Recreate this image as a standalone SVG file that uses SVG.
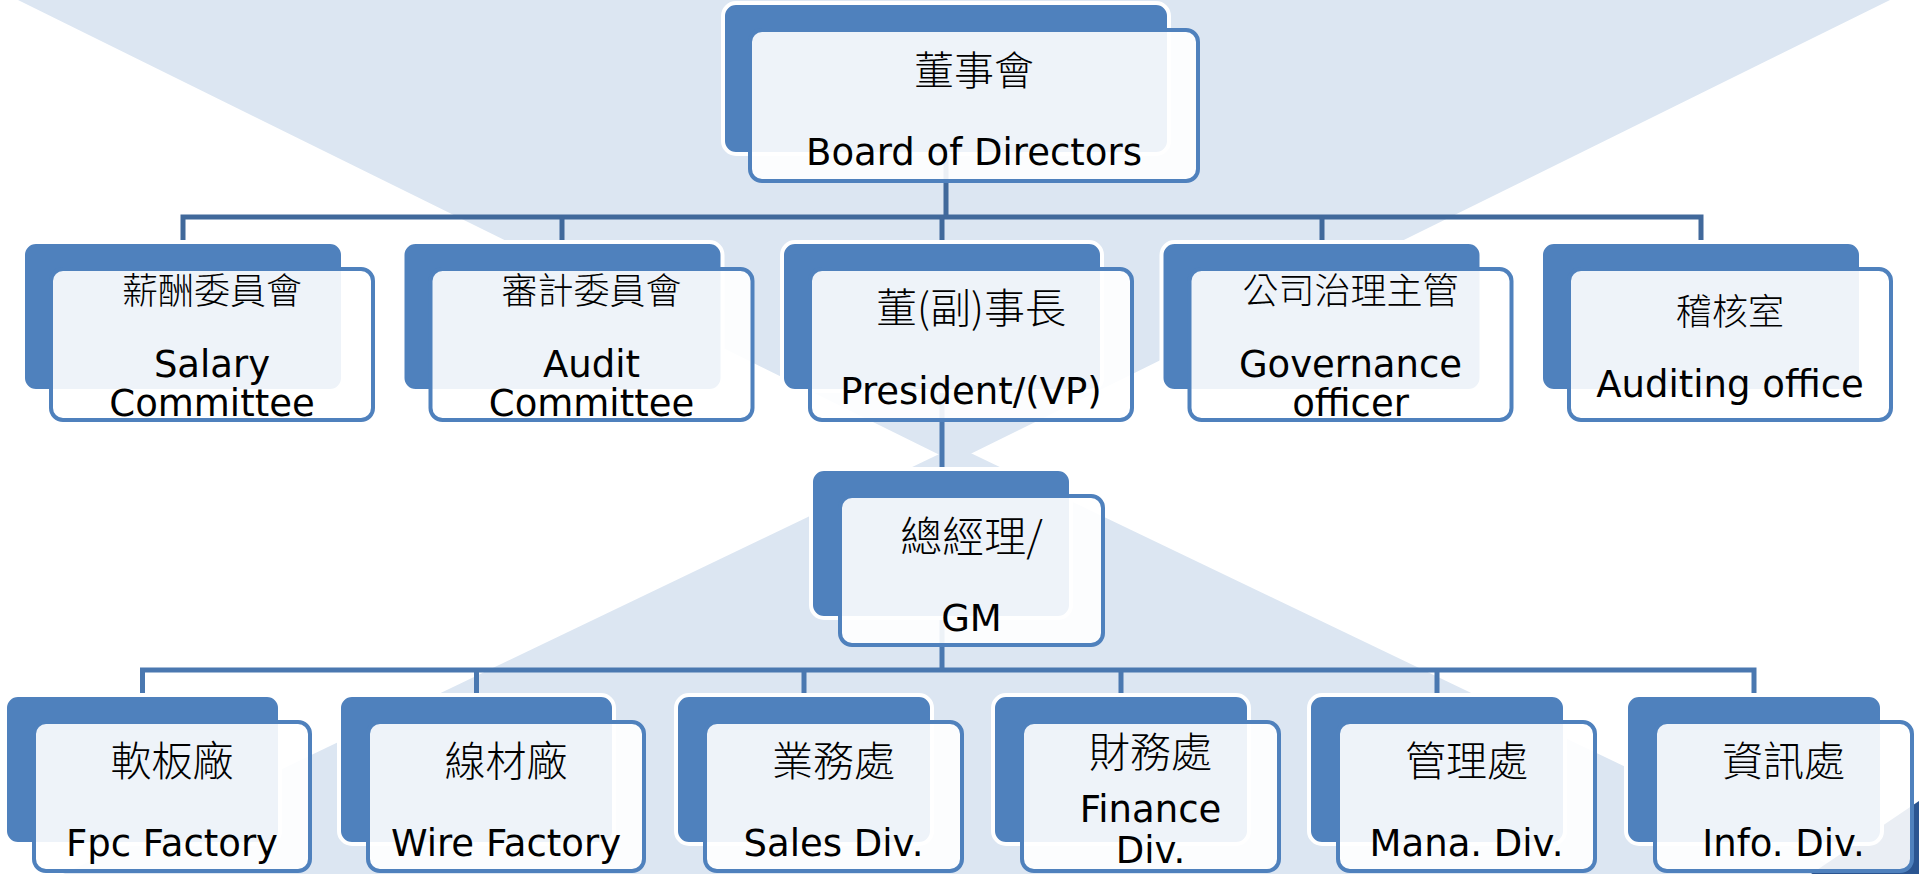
<svg xmlns="http://www.w3.org/2000/svg" width="1919" height="874" viewBox="0 0 1919 874">
<style>
.bg{fill:#dce6f2}
.back{fill:#4f81bd;stroke:#ffffff;stroke-width:4}
.front{fill:#ffffff;fill-opacity:0.9;stroke:#4f81bd;stroke-width:4}
.cjk{font-family:'Noto Sans CJK TC','Noto Sans CJK SC',sans-serif;font-weight:300;fill:#000000;text-anchor:middle}
.en{font-family:'DejaVu Sans','Liberation Sans',sans-serif;font-size:37px;fill:#000000;text-anchor:middle}
.c1{stroke:#41699b;stroke-width:5;fill:none}
.c2{stroke:#4a78b0;stroke-width:5;fill:none}
</style>
<rect x="0" y="0" width="1919" height="874" fill="#ffffff"/>
<g id="background">
<polygon class="bg" points="18,0 1890,0 954,462"/>
<polygon class="bg" points="956,446 63,874 1849,874"/>
<polygon points="1811,874 1919,801 1919,874" fill="#2b5591"/>
</g>
<g id="connectors">
<path class="c1" d="M946,150 V217"/>
<path class="c1" d="M183,242 V217 H1701 V242"/>
<path class="c1" d="M562,217 V242 M942,217 V242 M1322,217 V242"/>
<path class="c2" d="M942,388 V471"/>
<path class="c2" d="M942,614 V670"/>
<path class="c2" d="M142.5,695 V670 H1754 V695"/>
<path class="c2" d="M476.5,670 V695 M804,670 V695 M1121,670 V695 M1437,670 V695"/>
</g>
<g id="board">
<rect class="back" x="723" y="3" width="446" height="151" rx="13"/>
<rect class="front" x="750" y="30" width="448" height="151" rx="12"/>
<text class="cjk" x="974" y="85" font-size="40">董事會</text>
<text class="en" x="974" y="165">Board of Directors</text>
</g>
<g id="salary">
<rect class="back" x="23" y="242" width="320" height="149" rx="13"/>
<rect class="front" x="51" y="269" width="322" height="151" rx="12"/>
<text class="cjk" x="212" y="304" font-size="36">薪酬委員會</text>
<text class="en" x="212" y="377">Salary</text>
<text class="en" x="212" y="416">Committee</text>
</g>
<g id="audit">
<rect class="back" x="402.5" y="242" width="320" height="149" rx="13"/>
<rect class="front" x="430.5" y="269" width="322" height="151" rx="12"/>
<text class="cjk" x="591.5" y="304" font-size="36">審計委員會</text>
<text class="en" x="591.5" y="377">Audit</text>
<text class="en" x="591.5" y="416">Committee</text>
</g>
<g id="president">
<rect class="back" x="782" y="242" width="320" height="149" rx="13"/>
<rect class="front" x="810" y="269" width="322" height="151" rx="12"/>
<text class="cjk" x="971" y="323" font-size="41">董(副)事長</text>
<text class="en" x="971" y="404">President/(VP)</text>
</g>
<g id="governance">
<rect class="back" x="1161.5" y="242" width="320" height="149" rx="13"/>
<rect class="front" x="1189.5" y="269" width="322" height="151" rx="12"/>
<text class="cjk" x="1350.5" y="304" font-size="36">公司治理主管</text>
<text class="en" x="1350.5" y="377">Governance</text>
<text class="en" x="1350.5" y="416">officer</text>
</g>
<g id="auditing">
<rect class="back" x="1541" y="242" width="320" height="149" rx="13"/>
<rect class="front" x="1569" y="269" width="322" height="151" rx="12"/>
<text class="cjk" x="1730" y="325" font-size="36">稽核室</text>
<text class="en" x="1730" y="397">Auditing office</text>
</g>
<g id="gm">
<rect class="back" x="811" y="469" width="260" height="149" rx="13"/>
<rect class="front" x="840" y="496" width="263" height="149" rx="12"/>
<text class="cjk" x="971.5" y="552" font-size="42">總經理/</text>
<text class="en" x="971.5" y="631">GM</text>
</g>
<g id="fpc">
<rect class="back" x="5" y="695" width="275" height="149" rx="13"/>
<rect class="front" x="34" y="722" width="276" height="149" rx="12"/>
<text class="cjk" x="172" y="776" font-size="41">軟板廠</text>
<text class="en" x="172" y="856">Fpc Factory</text>
</g>
<g id="wire">
<rect class="back" x="339" y="695" width="275" height="149" rx="13"/>
<rect class="front" x="368" y="722" width="276" height="149" rx="12"/>
<text class="cjk" x="506" y="776" font-size="41">線材廠</text>
<text class="en" x="506" y="856">Wire Factory</text>
</g>
<g id="sales">
<rect class="back" x="676" y="695" width="256" height="149" rx="13"/>
<rect class="front" x="705" y="722" width="257" height="149" rx="12"/>
<text class="cjk" x="833.5" y="776" font-size="41">業務處</text>
<text class="en" x="833.5" y="856">Sales Div.</text>
</g>
<g id="finance">
<rect class="back" x="993" y="695" width="256" height="149" rx="13"/>
<rect class="front" x="1022" y="722" width="257" height="149" rx="12"/>
<text class="cjk" x="1150.5" y="767" font-size="41">財務處</text>
<text class="en" x="1150.5" y="822">Finance</text>
<text class="en" x="1150.5" y="863">Div.</text>
</g>
<g id="mana">
<rect class="back" x="1309" y="695" width="256" height="149" rx="13"/>
<rect class="front" x="1338" y="722" width="257" height="149" rx="12"/>
<text class="cjk" x="1466.5" y="776" font-size="41">管理處</text>
<text class="en" x="1466.5" y="856">Mana. Div.</text>
</g>
<g id="info">
<rect class="back" x="1626" y="695" width="256" height="149" rx="13"/>
<rect class="front" x="1655" y="722" width="257" height="149" rx="12"/>
<text class="cjk" x="1783.5" y="776" font-size="41">資訊處</text>
<text class="en" x="1783.5" y="856">Info. Div.</text>
</g>
</svg>
